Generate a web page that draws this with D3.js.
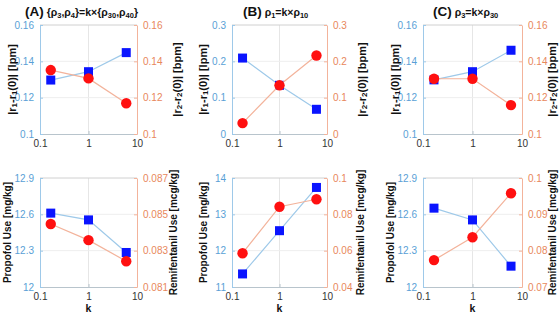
<!DOCTYPE html>
<html>
<head>
<meta charset="utf-8">
<script src="https://cdn.jsdelivr.net/npm/d3@7"></script>
<style>
  body { margin: 0; background: #fff; }
  text { font-family: "Liberation Sans", Arial, sans-serif; }
</style>
</head>
<body>
<svg id="fig" width="560" height="316"></svg>
<script>
// k values on the x axis (log scale)
var kVals = [1 / 6, 1, 6];
var xTicks = [0.1, 1, 10];

// top row: |r1-r1(0)| [lpm] (blue) and |r2-r2(0)| [bpm] (red)
var r1A = [0.1297, 0.1343, 0.1448], r2A = [0.1352, 0.1306, 0.1169];
var r1B = [0.209, 0.134, 0.068],    r2B = [0.030, 0.134, 0.216];
var r1C = [0.1298, 0.1343, 0.1461], r2C = [0.1304, 0.1304, 0.1159];

// bottom row: Propofol use [mg/kg] (blue) and Remifentanil use [mcg/kg] (red)
var propA = [12.61, 12.554, 12.285], remiA = [0.08447, 0.08358, 0.08242];
var propB = [11.36, 12.55, 13.74],   remiB = [0.0586, 0.0842, 0.0883];
var propC = [12.651, 12.554, 12.172], remiC = [0.0774, 0.0837, 0.0958];

// tick labels
var ticksTopAC = [0.1, 0.12, 0.14, 0.16];
var ticksTopB = [0, 0.1, 0.2, 0.3];
var propTicksAC = [12, 12.3, 12.6, 12.9];
var propTicksB = [11, 12, 13, 14];
var remiTicksA = [0.081, 0.083, 0.085, 0.087];
var remiTicksB = [0.04, 0.06, 0.08, 0.1];
var remiTicksC = [0.07, 0.08, 0.09, 0.1];

var blueAxis = "#5a9fd6", redAxis = "#e8875c";
var blueLine = "#9ec9e9", redLine = "#f3b39b";

var svg = d3.select("#fig");
var fmt = d3.format("~g");

var cols = [{x0: 40, x1: 137}, {x0: 232, x1: 327}, {x0: 423, x1: 522}];
var rows = [{y0: 25, y1: 134}, {y0: 178, y1: 287}];

var panels = [
  {c: 0, r: 0, left: r1A, right: r2A, lt: ticksTopAC, rt: ticksTopAC, ll: 12, rl: 177},
  {c: 1, r: 0, left: r1B, right: r2B, lt: ticksTopB, rt: ticksTopB, ll: 203, rl: 362},
  {c: 2, r: 0, left: r1C, right: r2C, lt: ticksTopAC, rt: ticksTopAC, ll: 395, rl: 552},
  {c: 0, r: 1, left: propA, right: remiA, lt: propTicksAC, rt: remiTicksA, ll: 7, rl: 173},
  {c: 1, r: 1, left: propB, right: remiB, lt: propTicksB, rt: remiTicksB, ll: 203, rl: 360},
  {c: 2, r: 1, left: propC, right: remiC, lt: propTicksAC, rt: remiTicksC, ll: 390, rl: 552}
];

function subLabel(g, parts) {
  // parts: [text, isSub]
  parts.forEach(function(p) {
    g.append("tspan").text(p[0])
      .attr("font-size", p[1] ? "8px" : null)
      .attr("baseline-shift", p[1] ? "-25%" : null);
  });
}

panels.forEach(function(p) {
  var col = cols[p.c], row = rows[p.r];
  var x = d3.scaleLog().domain([0.1, 10]).range([col.x0, col.x1]);
  var yl = d3.scaleLinear().domain(d3.extent(p.lt)).range([row.y1, row.y0]);
  var yr = d3.scaleLinear().domain(d3.extent(p.rt)).range([row.y1, row.y0]);
  var g = svg.append("g");

  // grid
  g.append("g").selectAll("line").data(xTicks.slice(1, -1)).join("line")
    .attr("x1", d => x(d)).attr("x2", d => x(d)).attr("y1", row.y0).attr("y2", row.y1)
    .attr("stroke", "#e6e6e6");
  g.append("g").selectAll("line").data(p.lt.slice(1, -1)).join("line")
    .attr("x1", col.x0).attr("x2", col.x1).attr("y1", d => yl(d)).attr("y2", d => yl(d))
    .attr("stroke", "#eeeeee");

  // x axis
  var ax = g.append("g").attr("transform", "translate(0," + row.y1 + ")")
    .call(d3.axisBottom(x).tickValues(xTicks).tickFormat(fmt).tickSizeInner(-3).tickSizeOuter(0).tickPadding(6));
  ax.select(".domain").attr("stroke", "#b8c4cc");
  ax.selectAll(".tick line").attr("stroke", "#b8c4cc");
  ax.selectAll("text").attr("fill", "#333").attr("font-size", "10px");
  g.append("line").attr("x1", col.x0).attr("x2", col.x1).attr("y1", row.y0).attr("y2", row.y0)
    .attr("stroke", "#d0d0d0");

  // left axis
  var al = g.append("g").attr("transform", "translate(" + col.x0 + ",0)")
    .call(d3.axisLeft(yl).tickValues(p.lt).tickFormat(fmt).tickSizeInner(-3).tickSizeOuter(0).tickPadding(6));
  al.select(".domain").attr("stroke", blueLine);
  al.selectAll(".tick line").attr("stroke", blueLine);
  al.selectAll("text").attr("fill", blueAxis).attr("font-size", "10px");

  // right axis
  var ar = g.append("g").attr("transform", "translate(" + col.x1 + ",0)")
    .call(d3.axisRight(yr).tickValues(p.rt).tickFormat(fmt).tickSizeInner(-3).tickSizeOuter(0).tickPadding(6));
  ar.select(".domain").attr("stroke", redLine);
  ar.selectAll(".tick line").attr("stroke", redLine);
  ar.selectAll("text").attr("fill", redAxis).attr("font-size", "10px");

  // series
  var lineL = d3.line().x((d, i) => x(kVals[i])).y(d => yl(d));
  var lineR = d3.line().x((d, i) => x(kVals[i])).y(d => yr(d));
  g.append("path").attr("d", lineL(p.left)).attr("fill", "none").attr("stroke", blueLine).attr("stroke-width", 1.2);
  g.selectAll("rect.sq").data(p.left).join("rect").attr("class", "sq")
    .attr("x", (d, i) => x(kVals[i]) - 4.5).attr("y", d => yl(d) - 4.5)
    .attr("width", 9).attr("height", 9).attr("fill", "#0a14ff");
  g.append("path").attr("d", lineR(p.right)).attr("fill", "none").attr("stroke", redLine).attr("stroke-width", 1.2);
  g.selectAll("circle").data(p.right).join("circle")
    .attr("cx", (d, i) => x(kVals[i])).attr("cy", d => yr(d)).attr("r", 5.2).attr("fill", "#ff1010");

  // axis labels
  var cy = (row.y0 + row.y1) / 2;
  var fs = p.r === 0 ? "11px" : "10px";
  var lt = g.append("text").attr("transform", "translate(" + p.ll + "," + cy + ") rotate(-90)")
    .attr("text-anchor", "middle").attr("dominant-baseline", "central")
    .attr("font-weight", "bold").attr("font-size", fs).attr("fill", "#111");
  var rt = g.append("text").attr("transform", "translate(" + p.rl + "," + cy + ") rotate(-90)")
    .attr("text-anchor", "middle").attr("dominant-baseline", "central")
    .attr("font-weight", "bold").attr("font-size", fs).attr("fill", "#111");
  if (p.r === 0) {
    subLabel(lt, [["|r", 0], ["1", 1], ["-r", 0], ["1", 1], ["(0)|  [lpm]", 0]]);
    subLabel(rt, [["|r", 0], ["2", 1], ["-r", 0], ["2", 1], ["(0)|  [bpm]", 0]]);
  } else {
    lt.text("Propofol Use [mg/kg]");
    rt.text("Remifentanil Use [mcg/kg]");
    g.append("text").attr("x", (col.x0 + col.x1) / 2).attr("y", 312)
      .attr("text-anchor", "middle").attr("font-weight", "bold").attr("font-size", "10.5px")
      .attr("fill", "#111").text("k");
  }
});

// panel titles
var titles = [
  {x: 25, tag: "(A)", parts: [[" {ρ", 0], ["3", 1], [",ρ", 0], ["4", 1], ["}=k×{ρ", 0], ["30", 1], [",ρ", 0], ["40", 1], ["}", 0]]},
  {x: 243, tag: "(B)", parts: [[" ρ", 0], ["1", 1], ["=k×ρ", 0], ["10", 1]]},
  {x: 433, tag: "(C)", parts: [[" ρ", 0], ["3", 1], ["=k×ρ", 0], ["30", 1]]}
];
titles.forEach(function(t) {
  var tx = svg.append("text").attr("x", t.x).attr("y", 16).attr("font-weight", "bold").attr("fill", "#111");
  tx.append("tspan").attr("font-size", "13.5px").text(t.tag);
  t.parts.forEach(function(p) {
    tx.append("tspan").text(p[0]).attr("font-size", p[1] ? "7.5px" : "10.5px")
      .attr("baseline-shift", p[1] ? "-25%" : null);
  });
});
</script>
</body>
</html>
